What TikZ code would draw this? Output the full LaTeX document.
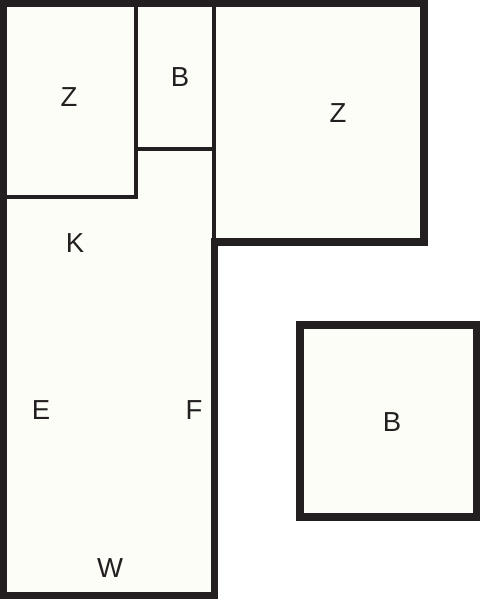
\documentclass[tikz,border=0pt]{standalone}
\usepackage{fontspec}
\setmainfont{Liberation Sans}
\begin{document}
\begin{tikzpicture}[x=1pt, y=-1pt]
        % Farben
        \definecolor{planWand}{HTML}{231F20}
        \definecolor{planBoden}{HTML}{FDFDF8}

        \tikzset{
            wand/.style={draw=planWand, line width=7.5pt, line join=miter},
            innenwand/.style={draw=planWand, line width=4pt, line cap=rect},
            raum/.style={font=\fontsize{27.5}{30}\selectfont, text=planWand, inner sep=0pt}
        }

        % Rahmen
        \useasboundingbox[fill=white] (0,0) rectangle (480,599);

        % Hauptgrundriss (L-Form)
        \fill[planBoden] (3.5,3.5) -- (424,3.5) -- (424,242) -- (214.5,242)
            -- (214.5,595.5) -- (3.5,595.5) -- cycle;

        % Innenwaende
        \draw[innenwand] (135.5,3.5) -- (135.5,196.5) -- (3.5,196.5);
        \draw[innenwand] (135.5,149) -- (214,149);
        \draw[innenwand] (214,3.5) -- (214,242);

        % Aussenwand
        \draw[wand] (3.5,3.5) -- (424,3.5) -- (424,242) -- (214.5,242)
            -- (214.5,595.5) -- (3.5,595.5) -- cycle;

        % Freistehender Raum
        \draw[wand, fill=planBoden] (300,325) rectangle (476.5,517);

        % Raumbezeichnungen: x / y / Text / Name
        \foreach \x/\y/\t/\n in {
            69/97/Z/zimmerKlein,
            180/77/B/badKlein,
            338/113/Z/zimmerGross,
            75/243/K/flurK,
            41/410/E/flurE,
            194/410/F/flurF,
            110/568/W/flurW,
            392/422/B/badFrei}
        {
            \node[raum] (\n) at (\x,\y) {\t};
        }
\end{tikzpicture}
\end{document}
